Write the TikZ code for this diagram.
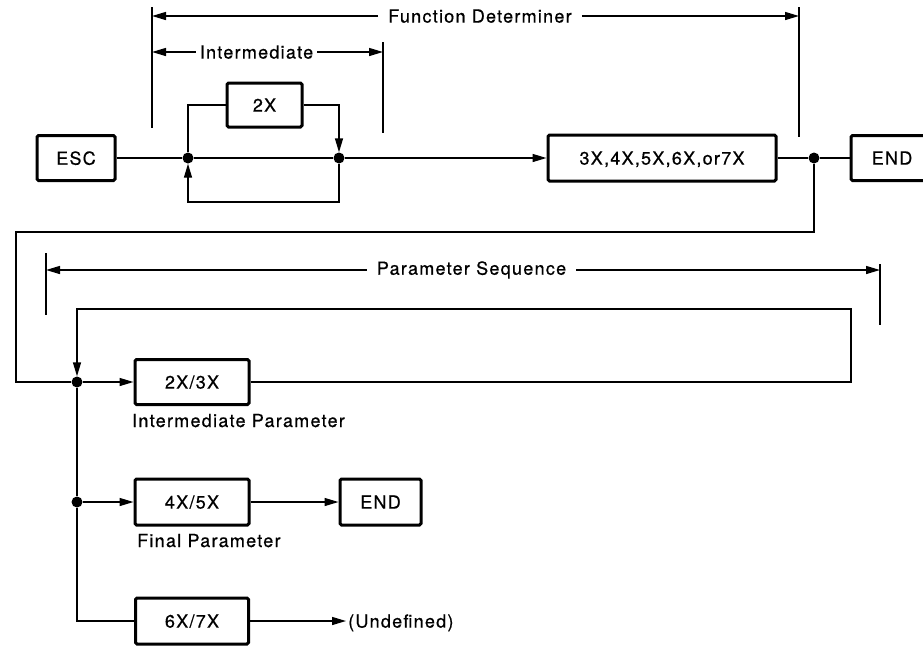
\documentclass[tikz,border=0pt]{standalone}
\usepackage{fontspec}
\setmainfont{TeX Gyre Heros}[LetterSpace=7, FakeBold=0.6]
\usetikzlibrary{arrows.meta}
\begin{document}
\begin{tikzpicture}[x=1pt,y=-1pt,
  box/.style={draw, line width=3pt, rounded corners=1.5pt, minimum height=45pt, inner sep=0pt, text depth=0pt, font=\fontsize{18}{20}\selectfont},
  conn/.style={line width=1.4pt},
  arr/.style={conn,-{Triangle[length=14pt,width=8pt]}},
  dot/.style={circle, fill, inner sep=0pt, minimum size=11pt},
  lbl/.style={font=\fontsize{18}{20}\selectfont, inner sep=0pt, text depth=0pt},
]
\useasboundingbox (0,0) rectangle (923,646);
\clip (0,0) rectangle (923,646);

% top row
\node[box, minimum width=78pt] (esc) at (76,158) {ESC};
\node[box, minimum width=75pt, minimum height=44pt] (b2x) at (264.5,105) {2X};
\node[box, minimum width=228pt, minimum height=46pt] (b3x) at (662,158) {3X,4X,5X,6X,or7X};
\node[box, minimum width=82pt] (end1) at (892,158) {END};
\node[dot] (j1) at (188,158) {};
\node[dot] (j2) at (339,158) {};
\node[dot] (j3) at (814,158) {};

\draw[conn] (esc) -- (j1);
\draw[conn] (j1) -- (j2);
\draw[arr] (j2) -- (b3x);
\draw[conn] (b3x) -- (j3) -- (end1);

\coordinate (lt1) at (188,105);
\coordinate (lt2) at (339,105);
\coordinate (lb1) at (339,202);
\coordinate (lb2) at (188,202);
\draw[conn] (j1) -- (lt1) -- (b2x);
\draw[arr] (b2x) -- (lt2) -- (j2);
\draw[arr] (j2) -- (lb1) -- (lb2) -- (j1);

% Function Determiner bracket
\coordinate (fdL1) at (152,7);
\coordinate (fdL2) at (152,128);
\coordinate (fdR1) at (799,7);
\coordinate (fdR2) at (799,137);
\coordinate (fdLa) at (152,16);
\coordinate (fdRa) at (799,16);
\draw[conn] (fdL1) -- (fdL2);
\draw[conn] (fdR1) -- (fdR2);
\node[lbl] (fd) at (480,16) {Function Determiner};
\draw[arr] ([xshift=-10pt]fd.west) -- (fdLa);
\draw[arr] ([xshift=10pt]fd.east) -- (fdRa);

% Intermediate bracket
\coordinate (imR1) at (383,42);
\coordinate (imR2) at (383,133);
\coordinate (imLa) at (152,52);
\coordinate (imRa) at (383,52);
\draw[conn] (imR1) -- (imR2);
\node[lbl] (im) at (256.5,52) {Intermediate};
\draw[arr] ([xshift=-4pt]im.west) -- (imLa);
\draw[arr] ([xshift=4pt]im.east) -- (imRa);

% feedback to parameter section
\node[dot] (j4) at (77,382) {};
\node[dot] (j5) at (77,502) {};
\coordinate (fbA) at (814,232);
\coordinate (fbB) at (16,232);
\coordinate (fbC) at (16,382);
\draw[conn] (j3) -- (fbA) -- (fbB) -- (fbC) -- (j4);

\node[box, minimum width=114pt] (b23) at (192,382) {2X/3X};
\draw[arr] (j4) -- (b23);
\coordinate (lpA) at (851,382);
\coordinate (lpB) at (851,309);
\coordinate (lpC) at (77,309);
\draw[arr] (b23) -- (lpA) -- (lpB) -- (lpC) -- (j4);

% Parameter Sequence bracket
\coordinate (psL1) at (46,253);
\coordinate (psL2) at (46,315);
\coordinate (psR1) at (880,264);
\coordinate (psR2) at (880,325);
\coordinate (psLa) at (46,270);
\coordinate (psRa) at (880,270);
\draw[conn] (psL1) -- (psL2);
\draw[conn] (psR1) -- (psR2);
\node[lbl] (ps) at (471.5,268) {Parameter Sequence};
\draw[arr] ([xshift=-10pt]ps.west |- psLa) -- (psLa);
\draw[arr] ([xshift=10pt]ps.east |- psRa) -- (psRa);

\node[lbl, anchor=base west] (ip) at (132,427) {Intermediate Parameter};

% final parameter
\node[box, minimum width=114pt, minimum height=46pt] (b45) at (192,502) {4X/5X};
\node[box, minimum width=81pt, minimum height=46pt] (end2) at (380.5,502) {END};
\draw[conn] (j4) -- (j5);
\draw[arr] (j5) -- (b45);
\draw[arr] (b45) -- (end2);
\node[lbl, anchor=base west] (fp) at (137,547) {Final Parameter};

% undefined
\node[box, minimum width=113pt, minimum height=46pt] (b67) at (192,621) {6X/7X};
\coordinate (bc) at (77,621);
\draw[conn] (j5) -- (bc) -- (b67);
\node[lbl, anchor=west] (und) at (348,621) {(Undefined)};
\draw[arr] (b67) -- ([xshift=-2pt]und.west);
\end{tikzpicture}
\end{document}
